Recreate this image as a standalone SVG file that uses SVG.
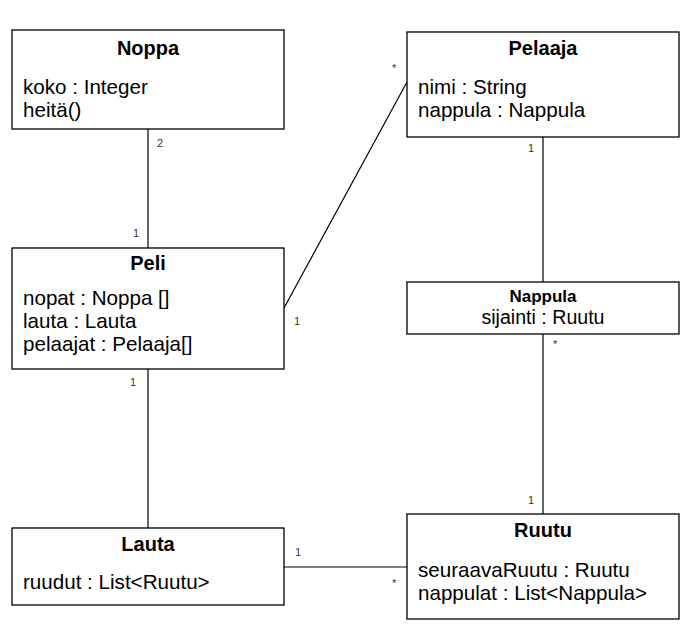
<svg xmlns="http://www.w3.org/2000/svg" width="694" height="638" viewBox="0 0 694 638">
<style>
.box{fill:#fff;stroke:#000;stroke-width:1.3}
.t{font-family:"Liberation Sans",Arial,sans-serif;font-size:20px;font-weight:bold;text-anchor:middle;fill:#000}
.a{font-family:"Liberation Sans",Arial,sans-serif;font-size:20.6px;fill:#000}
.m{font-family:"Liberation Sans",Arial,sans-serif;font-size:11px;fill:#333}
.c line{stroke:#000;stroke-width:1.2}
</style>
<rect width="694" height="638" fill="#fff"/>
<g class="c" id="connectors">
<line x1="148" y1="129" x2="148" y2="248"/>
<line x1="407" y1="82" x2="284" y2="308"/>
<line x1="543" y1="137" x2="543" y2="282"/>
<line x1="543" y1="334" x2="543" y2="514"/>
<line x1="148" y1="369" x2="148" y2="528"/>
<line x1="284" y1="567" x2="407" y2="567"/>
<text class="m" x="157" y="147">2</text>
<text class="m" x="133" y="237">1</text>
<text class="m" x="392" y="72">*</text>
<text class="m" x="294" y="325">1</text>
<text class="m" x="528" y="152">1</text>
<text class="m" x="553" y="348">*</text>
<text class="m" x="528" y="504">1</text>
<text class="m" x="130" y="386">1</text>
<text class="m" x="295" y="556">1</text>
<text class="m" x="392" y="587">*</text>
</g>
<g id="Noppa">
<rect class="box" x="12" y="30" width="272" height="99"/>
<text class="t" x="148" y="55">Noppa</text>
<text class="a" x="23" y="94">koko : Integer</text>
<text class="a" x="23" y="117">heitä()</text>
</g>
<g id="Pelaaja">
<rect class="box" x="407" y="32" width="272" height="105"/>
<text class="t" x="543" y="55">Pelaaja</text>
<text class="a" x="418" y="94">nimi : String</text>
<text class="a" x="418" y="117">nappula : Nappula</text>
</g>
<g id="Peli">
<rect class="box" x="12" y="248" width="272" height="121"/>
<text class="t" x="148" y="270">Peli</text>
<text class="a" x="23" y="305">nopat : Noppa []</text>
<text class="a" x="23" y="328">lauta : Lauta</text>
<text class="a" x="23" y="351">pelaajat : Pelaaja[]</text>
</g>
<g id="Nappula">
<rect class="box" x="407" y="282" width="272" height="52"/>
<text class="t" x="543" y="302" style="font-size:17px">Nappula</text>
<text class="a" x="543" y="324" style="text-anchor:middle;font-size:19.6px">sijainti : Ruutu</text>
</g>
<g id="Lauta">
<rect class="box" x="12" y="528" width="272" height="77"/>
<text class="t" x="148" y="551">Lauta</text>
<text class="a" x="23" y="589">ruudut : List&lt;Ruutu&gt;</text>
</g>
<g id="Ruutu">
<rect class="box" x="407" y="514" width="272" height="105"/>
<text class="t" x="543" y="537">Ruutu</text>
<text class="a" x="418" y="577">seuraavaRuutu : Ruutu</text>
<text class="a" x="418" y="600">nappulat : List&lt;Nappula&gt;</text>
</g>
</svg>
